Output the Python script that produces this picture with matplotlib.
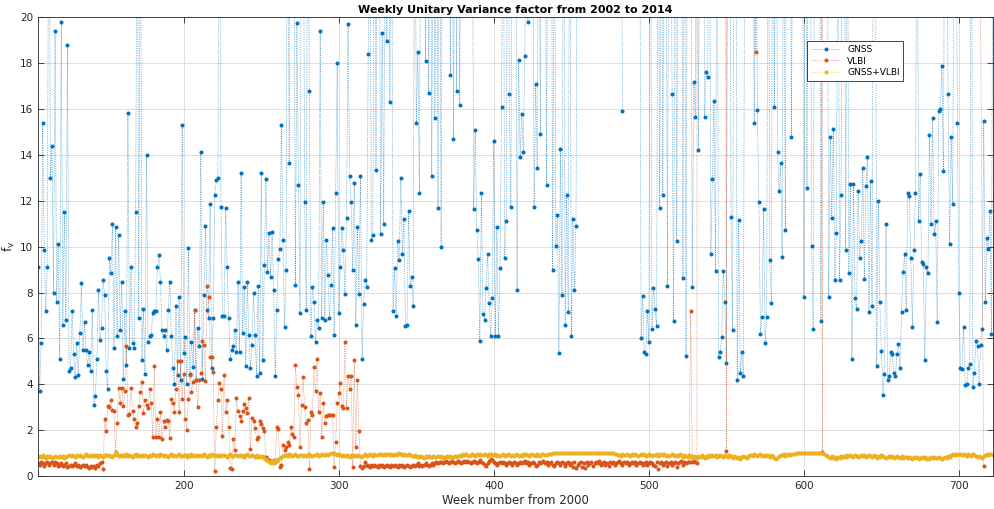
import numpy as np
import matplotlib
matplotlib.use("Agg")
import matplotlib.pyplot as plt

nan = np.nan
TOP = 30  # weeks whose value is off the top of the plot

# first week of every series
gnss_start = 106
vlbi_start = 106
comb_start = 106

# GNSS unitary variance factor, one value per week (106 ... 722)
gnss = [
    9.1, 3.7, 5.8, 15.4, 9.85, 7.2, 9.1, TOP, 13.0, 14.4,
    8.0, 19.4, 7.6, 10.1, 5.1, 19.8, 6.6, 11.5, 6.8, 18.8,
    4.6, 4.7, 7.2, 5.3, 4.3, 5.8, 4.4, 6.25, 8.4, 5.5,
    6.7, 5.5, 4.85, 5.4, 4.6, 7.25, 3.1, 3.5, 5.1, 8.1,
    5.95, 6.45, 8.55, 7.9, 4.6, 3.8, 9.5, 8.85, 11.0, 5.6,
    10.85, 6.1, 10.5, 6.35, 8.45, 4.25, 7.2, 4.85, 15.85, 5.6,
    9.1, 5.8, 5.6, 11.5, TOP, 6.9, TOP, 5.05, 7.3, 4.45,
    14.0, 5.85, 6.1, 6.15, 7.1, 7.2, 7.2, 9.1, 9.65, 8.45,
    6.35, 6.1, 6.35, 5.5, 7.25, 8.45, 6.1, 4.7, 4.0, 7.4,
    4.4, 7.8, 4.2, 15.3, 5.35, 6.05, 4.0, 9.95, 4.45, 5.85,
    4.75, 7.25, 4.2, 6.45, 5.65, 14.15, 4.25, 7.9, 10.9, 7.25,
    6.9, 11.85, 4.7, 6.9, 12.25, 12.9, 13.0, TOP, 11.75, 7.0,
    7.0, 11.7, 9.1, 6.9, 5.1, 5.5, 5.65, 6.35, 5.4, 8.45,
    5.4, 13.2, 6.25, 8.25, 4.8, 8.45, 6.15, 4.7, 5.7, 8.0,
    6.15, 4.35, 8.3, 4.5, 13.2, 5.05, 9.2, 12.95, 8.9, 10.6,
    8.7, 10.65, 8.1, 4.35, 7.25, 9.45, 9.9, 15.3, 10.3, 6.5,
    9.0, TOP, 13.65, TOP, TOP, TOP, 8.35, 19.75, 12.7, 7.1,
    TOP, TOP, 11.95, 7.25, TOP, 16.8, 6.1, 8.25, 7.6, 5.85,
    6.8, 6.45, 19.4, 6.9, 11.95, 6.8, 10.3, 8.75, 6.9, 8.35,
    10.8, 6.15, 12.35, 18.0, 7.1, 9.1, 10.8, 9.85, 7.95, 11.25,
    19.7, 13.1, 11.95, 9.0, 12.8, 6.6, 10.85, 7.95, 13.1, 5.1,
    7.5, 8.55, 8.25, 18.4, TOP, 10.3, 10.5, TOP, 13.35, TOP,
    TOP, 10.55, 19.3, 11.0, TOP, 18.95, TOP, 16.3, TOP, 7.2,
    9.05, 7.0, 10.25, 9.4, 13.0, 9.7, 11.2, 6.55, 6.6, 11.55,
    8.3, 8.7, 7.4, TOP, 15.4, 18.5, 12.35, TOP, TOP, TOP,
    18.1, TOP, 16.7, TOP, 13.1, TOP, 15.6, TOP, 11.7, TOP,
    10.0, TOP, TOP, TOP, TOP, TOP, 17.5, TOP, 14.7, TOP,
    16.8, TOP, 16.2, TOP, TOP, TOP, TOP, TOP, TOP, TOP,
    TOP, 11.65, 15.1, 10.75, 9.45, 5.9, 12.35, 7.05, 6.8, 8.2,
    9.7, 7.55, 6.1, 7.75, 14.6, 6.1, 10.85, 6.1, 9.05, 16.1,
    TOP, 9.5, 11.1, TOP, 16.65, 11.75, TOP, TOP, TOP, 8.1,
    18.15, 13.9, 15.8, 14.15, 18.3, TOP, 19.8, TOP, TOP, TOP,
    11.75, 17.1, 13.45, TOP, 14.9, TOP, TOP, TOP, 12.7, TOP,
    TOP, TOP, 9.0, TOP, 10.05, 11.4, 5.35, 14.25, 7.9, TOP,
    6.6, 12.25, 7.15, TOP, 6.1, 11.2, 8.1, 10.9, TOP, nan,
    nan, nan, nan, nan, nan, nan, nan, nan, nan, nan,
    nan, nan, nan, nan, nan, nan, nan, nan, nan, nan,
    nan, nan, nan, nan, nan, nan, TOP, 15.9, nan, nan,
    nan, nan, nan, nan, nan, nan, nan, TOP, TOP, 6.0,
    7.85, 5.4, 5.3, 7.2, 5.85, TOP, 6.4, 8.2, 7.3, 6.55,
    TOP, 11.7, TOP, 12.25, TOP, TOP, 8.3, TOP, TOP, 16.65,
    6.75, TOP, 10.25, TOP, TOP, TOP, 8.65, TOP, 5.25, TOP,
    TOP, TOP, 8.25, 17.2, 15.65, TOP, 14.2, TOP, TOP, TOP,
    15.65, 17.6, 17.4, TOP, 9.7, 12.95, 16.35, 8.95, TOP, 5.2,
    5.4, 6.05, 8.95, 7.6, 4.95, TOP, TOP, 11.3, 6.35, TOP,
    TOP, 4.2, 11.15, 4.5, 5.4, 4.35, TOP, TOP, TOP, TOP,
    TOP, TOP, 15.4, TOP, 15.95, 11.95, 6.2, 6.95, 11.65, 5.8,
    6.95, TOP, 9.4, 7.55, TOP, 16.1, TOP, 14.15, 12.45, 13.65,
    9.55, TOP, 10.75, TOP, TOP, TOP, 14.8, TOP, TOP, TOP,
    TOP, TOP, TOP, TOP, 7.8, TOP, 12.55, TOP, TOP, 10.05,
    6.4, TOP, TOP, TOP, TOP, 6.75, TOP, TOP, TOP, TOP,
    7.8, 14.8, 11.25, 15.15, 8.55, 10.6, TOP, 8.55, 12.25, TOP,
    TOP, 9.85, TOP, 8.85, 12.75, 5.1, 12.75, 7.75, 7.3, 12.45,
    9.5, 10.25, 13.45, 8.6, 12.65, 13.9, 7.15, 12.85, 7.4, TOP,
    TOP, 4.8, 12.0, 7.6, 5.45, 3.55, 4.45, 11.0, 4.2, 4.35,
    5.4, 5.3, 4.5, 4.35, 5.3, 5.75, 4.7, 7.15, 8.9, 9.7,
    7.25, 12.35, 12.2, 9.5, 6.5, 9.85, 12.35, TOP, 11.1, 13.15,
    9.35, 9.25, 5.05, 9.1, 8.85, 14.85, 11.0, 15.6, 10.55, 11.1,
    6.7, 15.9, 16.0, 17.9, 13.3, TOP, TOP, 16.65, 10.1, 14.8,
    11.85, TOP, TOP, 15.4, 8.0, 4.7, 4.65, 6.5, 3.95, 4.0,
    4.7, 4.9, TOP, 3.9, 4.5, 5.9, 5.65, 4.0, 5.7, 6.4,
    15.5, 7.6, 10.4, 9.9, 11.55, 6.2, TOP,
]

# VLBI, weekly from 106 to 531
vlbi = [
    0.55, 0.5, 0.6, 0.55, 0.45, 0.55, 0.6, 0.5, 0.55, 0.6,
    0.5, 0.6, 0.55, 0.45, 0.5, 0.55, 0.45, 0.5, 0.55, 0.4,
    0.45, 0.5, 0.45, 0.5, 0.55, 0.45, 0.5, 0.4, 0.45, 0.5,
    0.45, 0.5, 0.4, 0.35, 0.45, 0.4, 0.45, 0.35, 0.5, 0.45,
    0.55, 0.6, 0.3, 2.5, 1.95, 3.05, 3.0, 3.3, 2.9, 2.85,
    1.05, 2.3, 3.85, 3.2, 3.85, 3.05, 3.7, 5.65, 2.65, 2.7,
    3.85, 2.85, 2.5, 2.15, 2.3, 3.05, 3.65, 4.1, 2.75, 3.3,
    3.1, 2.95, 3.8, 3.2, 1.7, 4.8, 1.7, 2.5, 1.7, 2.8,
    1.6, 2.4, 2.15, 2.45, 2.4, 1.65, 3.35, 3.2, 2.8, 3.8,
    5.0, 2.8, 5.0, 3.35, 4.45, 2.5, 2.0, 3.35, 4.4, 3.65,
    4.1, 7.25, 4.2, 3.0, 4.2, 4.5, 5.9, 5.7, 4.15, 8.3,
    7.8, 5.2, 5.2, 4.55, 0.2, 2.15, 3.3, 4.05, 3.8, 1.75,
    4.4, 2.8, 3.3, 2.15, 0.35, 0.3, 1.6, 1.15, 3.4, 2.85,
    2.6, 2.4, 2.85, 3.15, 2.95, 2.75, 3.4, 1.2, 2.55, 2.4,
    2.1, 1.6, 1.7, 2.4, 2.25, 2.1, 1.95, 0.85, 0.75, 0.7,
    0.65, 0.6, 0.7, 0.6, 2.15, 2.05, 0.4, 0.5, 1.35, 1.15,
    1.25, 1.5, 1.35, 2.15, 1.85, 1.7, 4.85, 3.9, 3.55, 1.25,
    3.1, 4.3, 3.0, 2.3, 2.45, 0.3, 2.8, 2.65, 4.75, 3.7,
    5.1, 2.8, 3.6, 1.7, 3.2, 2.3, 2.6, 2.65, 2.65, 2.65,
    2.65, 0.4, 1.5, 3.2, 3.6, 4.05, 3.05, 2.95, 5.85, 2.95,
    4.35, 3.8, 4.35, 0.4, 5.05, 1.25, 4.2, 1.95, 0.45, 0.35,
    0.45, 0.6, 0.5, 0.45, 0.4, 0.5, 0.45, 0.5, 0.45, 0.4,
    0.5, 0.45, 0.5, 0.4, 0.45, 0.5, 0.45, 0.4, 0.5, 0.45,
    0.5, 0.45, 0.4, 0.5, 0.45, 0.5, 0.4, 0.45, 0.5, 0.45,
    0.4, 0.45, 0.5, 0.45, 0.5, 0.55, 0.45, 0.5, 0.45, 0.5,
    0.55, 0.5, 0.45, 0.5, 0.55, 0.5, 0.55, 0.6, 0.55, 0.6,
    0.6, 0.55, 0.6, 0.65, 0.6, 0.55, 0.6, 0.65, 0.6, 0.55,
    0.6, 0.65, 0.6, 0.55, 0.6, 0.65, 0.6, 0.65, 0.6, 0.55,
    0.6, 0.65, 0.6, 0.55, 0.6, 0.7, 0.6, 0.55, 0.5, 0.45,
    0.55, 0.65, 0.75, 0.7, 0.6, 0.55, 0.5, 0.55, 0.6, 0.55,
    0.6, 0.55, 0.5, 0.55, 0.6, 0.55, 0.5, 0.6, 0.55, 0.5,
    0.55, 0.6, 0.55, 0.6, 0.65, 0.55, 0.6, 0.5, 0.55, 0.6,
    0.55, 0.45, 0.5, 0.6, 0.55, 0.6, 0.65, 0.55, 0.6, 0.5,
    0.55, 0.6, 0.5, 0.45, 0.55, 0.6, 0.55, 0.5, 0.6, 0.55,
    0.45, 0.55, 0.6, 0.5, 0.55, 0.4, 0.6, 0.35, 0.5, 0.55,
    0.6, 0.4, 0.55, 0.35, 0.6, 0.5, 0.55, 0.6, 0.45, 0.55,
    0.6, 0.55, 0.65, 0.5, 0.55, 0.6, 0.5, 0.55, 0.45, 0.6,
    0.55, 0.6, 0.5, 0.55, 0.6, 0.65, 0.55, 0.5, 0.6, 0.55,
    0.6, 0.5, 0.55, 0.6, 0.55, 0.6, 0.5, 0.55, 0.6, 0.55,
    0.5, 0.55, 0.6, 0.5, 0.55, 0.6, 0.55, 0.5, 0.45, 0.6,
    0.3, 0.55, 0.6, 0.5, 0.55, 0.6, 0.45, 0.55, 0.6, 0.5,
    0.55, 0.6, 0.4, 0.55, 0.6, 0.65, 0.5, 0.6, 0.55, 0.6,
    0.6, 7.2, 0.6, 0.65, 0.6, 0.55,
]
# sparse VLBI solutions after week 531 (outliers far above the plot)
vlbi_tail_weeks = [532, 550, 551, 569, 570, 612, 613, 716]
vlbi_tail_vals = [1000, 1.1, 1000, 18.5, 1000, 1.05, 1000, 0.45]

# GNSS+VLBI, weekly 106 ... 722 (hundredths)
comb = [
    85, 88, 82, 90, 84, 80, 86, 83, 88, 79, 84, 87, 81, 85, 89, 83, 86, 80, 84, 88,
    90, 86, 92, 88, 84, 91, 87, 93, 89, 85, 90, 94, 88, 86, 91, 89, 93, 87, 90, 85,
    92, 88, 84, 90, 93, 87, 91, 89, 85, 92, 104, 90, 86, 93, 88, 91, 87, 94, 89, 92,
    88, 85, 91, 94, 87, 90, 86, 92, 89, 93, 88, 84, 91, 87, 95, 90, 86, 92, 89, 94,
    90, 87, 93, 89, 85, 91, 95, 88, 92, 86, 90, 94, 89, 87, 93, 91, 85, 90, 88, 94,
    89, 92, 86, 93, 88, 91, 87, 94, 90, 85, 92, 88, 95, 90, 86, 91, 89, 93, 87, 90,
    92, 88, 85, 91, 94, 89, 86, 92, 90, 87, 93, 88, 91, 85, 90, 94, 88, 86, 92, 89,
    85, 90, 84, 88, 82, 86, 78, 72, 68, 62, 58, 64, 55, 70, 66, 75, 80, 85, 88, 90,
    92, 88, 94, 90, 86, 91, 95, 89, 87, 92, 90, 86, 93, 88, 91, 95, 89, 86, 92, 90,
    94, 88, 91, 96, 90, 93, 97, 92, 95, 99, 94, 100, 96, 92, 95, 90, 88, 93, 86, 91,
    89, 85, 92, 88, 90, 86, 93, 89, 87, 84, 90, 94, 88, 92, 96, 91, 89, 95, 93, 90,
    94, 97, 92, 95, 91, 98, 94, 90, 96, 93, 97, 92, 95, 99, 94, 91, 96, 93, 90, 95,
    92, 88, 86, 90, 84, 87, 82, 88, 85, 80, 86, 83, 89, 84, 81, 87, 85, 82, 88, 84,
    86, 80, 85, 83, 88, 82, 86, 79, 84, 87, 83, 89, 92, 88, 94, 90, 95, 91, 88, 93,
    96, 92, 89, 95, 91, 97, 93, 90, 96, 92, 88, 94, 98, 93, 90, 95, 89, 92, 87, 91,
    94, 89, 92, 96, 90, 87, 93, 89, 95, 91, 86, 92, 88, 94, 90, 96, 92, 88, 95, 91,
    93, 89, 96, 92, 88, 94, 97, 93, 90, 95, 98, 94, 100, 99, 101, 100, 102, 101, 100, 102,
    101, 102, 100, 101, 102, 101, 100, 102, 101, 100, 102, 101, 102, 100, 101, 102, 101, 100, 102, 101,
    100, 102, 101, 100, 102, 101, 102, 100, 101, 102, 101, 100, 97, 94, 90, 92, 88, 95, 91, 93,
    96, 92, 89, 94, 90, 95, 91, 88, 93, 96, 90, 94, 89, 92, 95, 91, 87, 93, 90, 94,
    88, 92, 96, 90, 94, 89, 93, 87, 91, 95, 90, 86, 92, 88, 94, 90, 85, 91, 88, 84,
    90, 86, 80, 88, 84, 78, 86, 82, 90, 85, 80, 88, 84, 91, 87, 92, 86, 90, 84, 88,
    92, 86, 82, 90, 87, 84, 91, 86, 80, 88, 84, 78, 85, 75, 82, 88, 84, 80, 86, 90,
    92, 88, 94, 90, 86, 92, 95, 89, 91, 87, 93, 88, 84, 90, 86, 80, 76, 84, 88, 92,
    90, 94, 89, 92, 95, 91, 96, 98, 97, 100, 99, 101, 100, 102, 100, 101, 99, 101, 100, 102,
    101, 100, 102, 101, 100, 101, 99, 96, 92, 88, 84, 80, 86, 78, 82, 76, 84, 80, 86, 82,
    88, 84, 90, 86, 92, 88, 84, 90, 86, 82, 88, 92, 86, 90, 84, 88, 92, 86, 82, 90,
    86, 80, 88, 84, 90, 86, 82, 78, 85, 88, 82, 86, 80, 84, 88, 82, 78, 86, 80, 84,
    82, 78, 85, 80, 76, 84, 79, 82, 75, 80, 84, 78, 82, 76, 80, 74, 82, 78, 84, 80,
    77, 82, 78, 74, 80, 84, 79, 86, 82, 90, 94, 91, 96, 92, 98, 95, 91, 97, 93, 89,
    95, 92, 88, 94, 90, 86, 82, 88, 84, 80, 86, 92, 96, 90, 94, 98, 93,
]

x_ticks = [200, 300, 400, 500, 600, 700]
y_ticks = [0, 2, 4, 6, 8, 10, 12, 14, 16, 18, 20]

gnss_w = np.arange(gnss_start, gnss_start + len(gnss))
vlbi_w = np.concatenate([np.arange(vlbi_start, vlbi_start + len(vlbi)), vlbi_tail_weeks])
vlbi_v = np.concatenate([vlbi, vlbi_tail_vals])
comb_w = np.arange(comb_start, comb_start + len(comb))
comb_v = np.array(comb) / 100.0

c_gnss = '#0072BD'
c_vlbi = '#D95319'
c_comb = '#EDB120'

fig = plt.figure(figsize=(9.95, 5.09), dpi=100)
ax = fig.add_axes([0.0382, 0.0648, 0.9598, 0.901])

ls = (0, (1, 1.8))
kw = dict(linestyle=ls, linewidth=0.45, marker='o', markersize=2.9, markeredgewidth=0)
ax.plot(gnss_w, gnss, color=c_gnss, label='GNSS', **kw)
ax.plot(vlbi_w, vlbi_v, color=c_vlbi, label='VLBI', **kw)
ax.plot(comb_w, comb_v, color=c_comb, label='GNSS+VLBI', **kw)

ax.set_xlim(gnss_w[0], gnss_w[-1])
ax.set_ylim(0, 20)
ax.set_xticks(x_ticks)
ax.set_yticks(y_ticks)
ax.grid(True, color='#dedede', linewidth=0.7)
ax.set_axisbelow(True)
ax.tick_params(direction='in', length=4, width=0.6, labelsize=7.5,
               colors='#262626', top=True, right=True)
for s in ax.spines.values():
    s.set_color('#262626')
    s.set_linewidth(0.6)

ax.set_title('Weekly Unitary Variance factor from 2002 to 2014',
             fontsize=8, fontweight='bold', pad=3)
ax.set_xlabel('Week number from 2000', fontsize=8.5, labelpad=2, color='#262626')
ax.set_ylabel('f$_\\mathrm{v}$', fontsize=9, labelpad=2, color='#262626')

leg = ax.legend(loc='upper left', bbox_to_anchor=(0.801, 0.958), fontsize=6.5,
                fancybox=False, framealpha=1, edgecolor='#262626',
                handlelength=3.2, borderpad=0.4, labelspacing=0.3)
leg.get_frame().set_linewidth(0.6)

fig.savefig('out.png', dpi=100)
